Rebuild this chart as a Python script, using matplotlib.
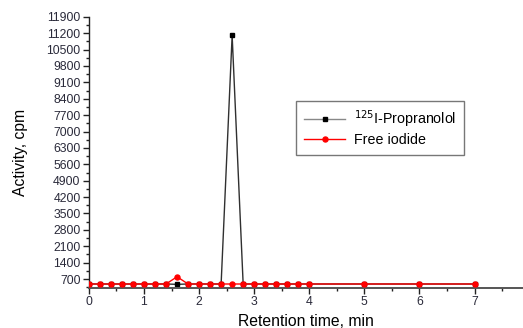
import numpy as np
import matplotlib.pyplot as plt
from matplotlib.ticker import MultipleLocator
from matplotlib.lines import Line2D

plt.rcParams['font.family'] = ['Liberation Sans', 'DejaVu Sans']

# -------------------- data --------------------
time_min = [0.0, 0.2, 0.4, 0.6, 0.8, 1.0, 1.2, 1.4, 1.6, 1.8, 2.0, 2.2, 2.4,
            2.6, 2.8, 3.0, 3.2, 3.4, 3.6, 3.8, 4.0, 5.0, 6.0, 7.0]
propranolol = [490, 490, 490, 490, 490, 490, 490, 490, 475, 490, 490, 490, 490,
               11100, 490, 490, 490, 490, 490, 490, 490, 490, 490, 490]
free_iodide = [490, 490, 490, 490, 490, 490, 490, 490, 800, 490, 490, 490, 490,
               490, 490, 490, 490, 490, 490, 490, 490, 490, 490, 490]

# -------------------- plot --------------------
fig = plt.figure(figsize=(5.23, 3.28), dpi=100)
ax = fig.add_axes([0.170, 0.122, 0.830, 0.827])

ax.plot(time_min, propranolol, color='#303030', lw=1.0, marker='s', ms=3,
        mfc='black', mec='black', zorder=2)
ax.plot(time_min, free_iodide, color='red', lw=1.0, marker='o', ms=3.6,
        mfc='red', mec='red', zorder=3)

ax.set_xlim(0, 7.88)
ax.set_ylim(320, 11900)
ax.xaxis.set_major_locator(MultipleLocator(1))
ax.xaxis.set_minor_locator(MultipleLocator(0.5))
ax.yaxis.set_minor_locator(MultipleLocator(350))
ax.set_yticks(np.arange(700, 11901, 700))

for s in ['top', 'right']:
    ax.spines[s].set_visible(False)
ax.spines['left'].set_color('#222222')
ax.spines['bottom'].set_color('#555555')
ax.spines['left'].set_linewidth(1.0)
ax.spines['bottom'].set_linewidth(1.4)

ax.tick_params(which='major', direction='out', length=4, width=1,
               labelsize=8.8, colors='#222222', labelcolor='#2a2a3a', pad=2)
ax.tick_params(which='minor', direction='out', length=2.5, width=1,
               colors='#222222')

ax.set_xlabel('Retention time, min', fontsize=11.3, labelpad=4)
ax.set_ylabel('Activity, cpm', fontsize=11.3, labelpad=13)

handles = [Line2D([], [], color='#888888', lw=1.0, marker='s', ms=3,
                  mfc='black', mec='black'),
           Line2D([], [], color='red', lw=1.0, marker='o', ms=3.6,
                  mfc='red', mec='red')]
labels = ['$^{125}$I-Propranolol', 'Free iodide']
leg = ax.legend(handles, labels, loc='upper left', bbox_to_anchor=(0.477, 0.690),
                borderaxespad=0, fontsize=10.3, frameon=True, fancybox=False,
                edgecolor='#555555', handlelength=2.9, handletextpad=0.6,
                borderpad=0.55, labelspacing=0.2)
leg.get_frame().set_linewidth(1.0)

plt.savefig('out.png', dpi=100)
